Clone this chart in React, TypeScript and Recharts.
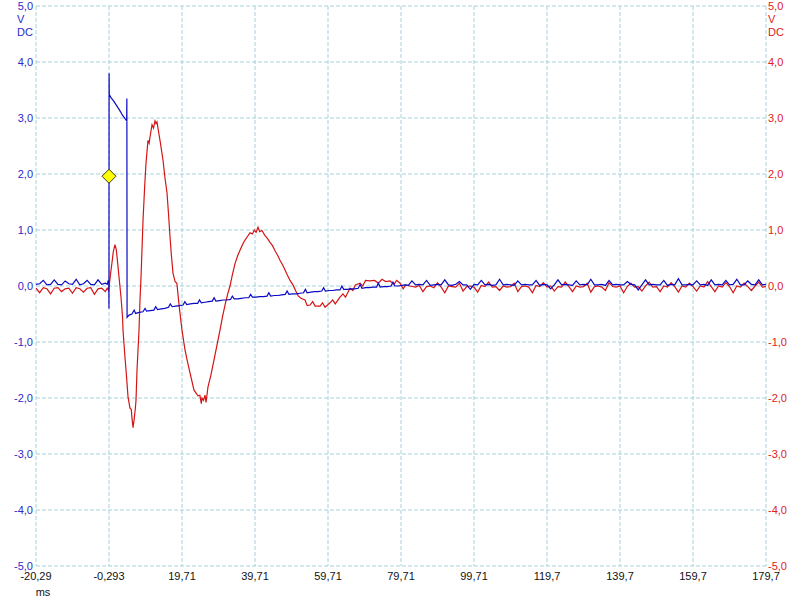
import React from 'react';
import { LineChart, Line, XAxis, YAxis, CartesianGrid, ReferenceDot } from 'recharts';

// ---- axes ----
const xTicks = [-20.293, -0.293, 19.707, 39.707, 59.707, 79.707, 99.707, 119.707, 139.707, 159.707, 179.707];
const xTickLabels = ['-20,29', '-0,293', '19,71', '39,71', '59,71', '79,71', '99,71', '119,7', '139,7', '159,7', '179,7'];
const yTicks = [-5, -4, -3, -2, -1, 0, 1, 2, 3, 4, 5];
const xUnit = 'ms';
const yUnit = ['V', 'DC'];

// ---- trigger marker ----
const triggerTime = -0.29;
const triggerLevel = 1.96;

// ---- sampling for flat (noisy) segments ----
const sampleMs = 1;
const preStart = -20.293;
const bluePostStart = 80.707;
const redPostStart = 83.707;

// ---- blue channel (V DC) ----
const bluePre = [0.03, 0.04, 0.1, 0.02, 0.03, 0.11, 0.03, 0.02, 0.09, 0.04, 0.03, 0.12, 0.02, 0.04, 0.1, 0.03, 0.02, 0.11, 0.03, 0.05];
const blueEvent: [number, number][] = [
  [-0.8, 0.03], [-0.5, 0.1], [-0.35, 0.04], [-0.3, -0.4], [-0.27, 3.8], [-0.22, 3.42], [0.3, 3.36], [1.0, 3.3],
  [1.8, 3.22], [2.6, 3.14], [3.4, 3.05], [4.1, 2.99], [4.55, 2.95], [4.6, 3.35], [4.66, -0.56], [5.2, -0.52],
  [6, -0.5], [6.6, -0.43], [7, -0.49], [8, -0.47], [9, -0.46], [9.6, -0.4], [10, -0.45], [11, -0.44], [12, -0.43],
  [12.5, -0.37], [13, -0.42], [14, -0.41], [15, -0.4], [16, -0.38], [16.5, -0.32], [17, -0.37], [18, -0.36],
  [19, -0.35], [20, -0.34], [20.5, -0.28], [21, -0.33], [22, -0.32], [23, -0.31], [24, -0.31], [24.5, -0.25],
  [25, -0.3], [26, -0.29], [27, -0.28], [28, -0.27], [28.5, -0.21], [29, -0.27], [30, -0.26], [31, -0.25],
  [32, -0.25], [33, -0.24], [33.5, -0.18], [34, -0.23], [35, -0.23], [36, -0.22], [37, -0.21], [38, -0.21],
  [38.5, -0.15], [39, -0.2], [40, -0.2], [41, -0.19], [42, -0.19], [43, -0.18], [43.5, -0.12], [44, -0.18],
  [45, -0.17], [46, -0.17], [47, -0.16], [48, -0.15], [48.5, -0.09], [49, -0.15], [50, -0.14], [51, -0.14],
  [52, -0.13], [53, -0.12], [53.5, -0.06], [54, -0.12], [55, -0.11], [56, -0.1], [57, -0.1], [58, -0.09],
  [58.5, -0.03], [59, -0.09], [60, -0.08], [61, -0.08], [62, -0.07], [63, -0.07], [63.5, 0.0], [64, -0.06],
  [65, -0.06], [66, -0.05], [67, -0.05], [68, -0.04], [68.5, 0.03], [69, -0.04], [70, -0.03], [71, -0.03],
  [72, -0.02], [73, -0.02], [73.5, 0.05], [74, -0.02], [75, -0.01], [76, -0.01], [77, 0.0], [77.5, 0.07],
  [78, 0.0], [79, 0.0], [80, 0.01],
];
const bluePost = [
  0.02, 0.01, 0.09, 0.02, 0.03, 0.02, 0.1, 0.01, 0.02, 0.03,
  0.02, 0.11, 0.02, 0.01, 0.03, 0.08, 0.02, 0.02, -0.06, 0.03,
  0.02, 0.1, 0.02, 0.03, 0.01, 0.02, 0.12, 0.02, 0.03, 0.02,
  0.01, 0.09, 0.02, 0.03, 0.02, 0.02, 0.1, 0.01, 0.03, 0.02,
  -0.05, 0.02, 0.11, 0.02, 0.03, 0.02, 0.01, 0.09, 0.02, 0.03,
  0.02, 0.12, 0.02, 0.02, 0.03, 0.01, 0.1, 0.02, 0.03, 0.02,
  0.02, 0.08, 0.03, 0.02, -0.07, 0.02, 0.11, 0.02, 0.03, 0.02,
  0.02, 0.1, 0.01, 0.03, 0.02, 0.13, 0.02, 0.02, 0.03, 0.02,
  0.09, 0.02, 0.03, 0.01, 0.11, 0.02, 0.03, 0.02, 0.1, 0.02,
  0.03, 0.12, 0.02, 0.02, 0.09, 0.03, 0.02, 0.11, 0.02, 0.03,
];

// ---- red channel (V DC) ----
const redPre = [-0.04, -0.12, -0.03, -0.05, -0.14, -0.04, -0.03, -0.1, -0.05, -0.04, -0.13, -0.03, -0.05, -0.11, -0.04, -0.03, -0.15, -0.05, -0.04, -0.1];
const redEvent: [number, number][] = [
  [-0.8, -0.04], [-0.4, -0.08], [-0.29, -0.02], [0.1, 0.2], [0.53, 0.42], [0.9, 0.62], [1.35, 0.74], [1.7, 0.65],
  [2.1, 0.4], [2.45, 0.16], [3.0, -0.2], [3.41, -0.55], [3.55, -0.79], [4.0, -1.2], [4.37, -1.5], [4.92, -1.98],
  [5.46, -2.18], [5.8, -2.2], [6.01, -2.36], [6.29, -2.53], [6.56, -2.4], [6.9, -2.2], [7.11, -2.04], [7.38, -1.5],
  [7.93, -0.79], [8.2, -0.25], [8.48, 0.16], [9.03, 1.18], [9.5, 1.8], [9.85, 2.2], [10.39, 2.6], [10.7, 2.55],
  [10.94, 2.66], [11.49, 2.88], [11.9, 2.82], [12.31, 2.95], [12.6, 2.9], [12.86, 2.93], [13.3, 2.75], [13.68, 2.6],
  [14.5, 2.25], [15.0, 1.95], [15.6, 1.66], [16.0, 1.3], [16.42, 0.88], [16.8, 0.55], [17.24, 0.23], [17.8, 0.08],
  [18.3, 0.05], [19.0, -0.4], [19.71, -0.79], [20.53, -1.14], [21.2, -1.35], [21.9, -1.55], [23.0, -1.86],
  [24.09, -1.96], [24.6, -1.95], [25.0, -2.1], [25.19, -2.0], [25.6, -2.04], [26.0, -1.95], [26.29, -2.08],
  [26.83, -1.8], [27.6, -1.6], [28.48, -1.32], [29.3, -1.05], [30.12, -0.79], [30.8, -0.55], [31.49, -0.34],
  [32.2, -0.15], [32.86, 0.0], [33.5, 0.2], [34.23, 0.4], [35.0, 0.55], [35.6, 0.64], [36.3, 0.74], [36.97, 0.82],
  [37.6, 0.88], [38.34, 0.95], [39.0, 0.93], [39.5, 1.0], [40.0, 0.96], [40.53, 1.05], [41.0, 0.97], [41.6, 0.99],
  [42.45, 0.9], [43.1, 0.85], [43.82, 0.78], [44.5, 0.72], [45.2, 0.63], [45.9, 0.55], [46.56, 0.46], [47.5, 0.35],
  [48.4, 0.22], [49.3, 0.1], [50.1, 0.02], [50.94, -0.1], [51.6, -0.18], [52.3, -0.22], [53.41, -0.25],
  [54.0, -0.35], [54.78, -0.34], [55.5, -0.28], [56.2, -0.36], [57.52, -0.36], [58.2, -0.3], [58.9, -0.38],
  [60.26, -0.3], [61.0, -0.25], [61.7, -0.32], [63.0, -0.2], [63.8, -0.14], [64.5, -0.2], [65.74, -0.04],
  [66.5, -0.08], [67.2, 0.02], [68.48, 0.05], [69.2, 0.0], [70.0, 0.1], [71.22, 0.09], [72.5, 0.1], [73.5, 0.05],
  [74.5, 0.12], [75.5, 0.08], [76.7, 0.09], [77.8, 0.03], [78.5, 0.1], [79.44, 0.05], [80.3, -0.05], [81.0, 0.02],
  [82.18, 0.0],
];
const redPost = [
  -0.02, 0.01, -0.1, -0.01, 0.0, -0.03, 0.06, -0.02, -0.12, 0.0,
  -0.01, -0.02, 0.05, -0.09, -0.01, 0.0, -0.02, -0.11, 0.01, -0.01,
  0.07, -0.02, -0.01, -0.08, 0.0, -0.02, -0.01, 0.05, -0.1, -0.01,
  0.0, -0.02, -0.12, 0.01, -0.01, 0.06, -0.02, 0.0, -0.09, -0.01,
  -0.02, 0.07, -0.01, -0.1, 0.0, -0.02, -0.01, 0.05, -0.11, -0.01,
  0.0, -0.02, -0.08, 0.06, -0.01, -0.02, 0.0, -0.12, -0.01, 0.05,
  -0.02, -0.01, -0.09, 0.0, 0.07, -0.02, -0.01, -0.1, 0.0, -0.02,
  0.06, -0.01, -0.11, 0.0, -0.02, 0.05, -0.01, -0.09, 0.0, -0.02,
  0.08, -0.01, -0.1, 0.0, -0.02, 0.06, -0.01, -0.12, 0.0, -0.02,
  0.05, -0.01, -0.08, 0.0, 0.07, -0.02, -0.01,
];

const build = (pre: number[], event: [number, number][], post: number[], postStart: number) => [
  ...pre.map((v, i) => ({ t: preStart + i * sampleMs, v })),
  ...event.map(([t, v]) => ({ t, v })),
  ...post.map((v, i) => ({ t: postStart + i * sampleMs, v })),
];

const blueData = build(bluePre, blueEvent, bluePost, bluePostStart);
const redData = build(redPre, redEvent, redPost, redPostStart);

const BLUE = '#0a0ac4';
const RED = '#d41515';
const BLUE_TXT = '#2a2ac8';
const RED_TXT = '#dc2222';
const FONT = '"Liberation Sans", Arial, sans-serif';
const GRID = '#a6d2da';

const fmtY = (v: number) => v.toFixed(1).replace('.', ',');

const LeftTick = (props: any) => {
  const { x, y, payload } = props;
  return (
    <g>
      <text x={x} y={y} dy={4} textAnchor="end" fill={BLUE_TXT} fontSize={11} fontFamily={FONT}>{fmtY(payload.value)}</text>
      {payload.value === 5 && yUnit.map((u, i) => (
        <text key={u} x={x - 16} y={y + 13 * (i + 1)} dy={4} textAnchor="start" fill={BLUE_TXT} fontSize={11} fontFamily={FONT}>{u}</text>
      ))}
    </g>
  );
};

const RightTick = (props: any) => {
  const { x, y, payload } = props;
  return (
    <g>
      <text x={x} y={y} dy={4} textAnchor="start" fill={RED_TXT} fontSize={11} fontFamily={FONT}>{fmtY(payload.value)}</text>
      {payload.value === 5 && yUnit.map((u, i) => (
        <text key={u} x={x} y={y + 13 * (i + 1)} dy={4} textAnchor="start" fill={RED_TXT} fontSize={11} fontFamily={FONT}>{u}</text>
      ))}
    </g>
  );
};

const BottomTick = (props: any) => {
  const { x, y, payload, index } = props;
  const idx = xTicks.indexOf(payload.value);
  const label = idx >= 0 ? xTickLabels[idx] : String(payload.value);
  return (
    <g>
      <text x={x} y={y} dy={8} textAnchor="middle" fill="#111" fontSize={11} fontFamily={FONT}>{label}</text>
      {index === 0 && (
        <text x={x + 7} y={y + 24} textAnchor="middle" fill="#111" fontSize={11} fontFamily={FONT}>{xUnit}</text>
      )}
    </g>
  );
};

const Diamond = (props: any) => {
  const { cx, cy } = props;
  const r = 7;
  return (
    <polygon
      points={`${cx},${cy - r} ${cx + r},${cy} ${cx},${cy + r} ${cx - r},${cy}`}
      fill="#ffff00"
      stroke="#3a3a20"
      strokeWidth={1}
    />
  );
};

export default function App() {
  return (
    <div style={{ position: 'absolute', left: 0, top: 0, width: 800, height: 600, background: '#fff' }}>
      <LineChart width={800} height={600} margin={{ top: 6, right: 0, bottom: 0, left: 0 }}>
        <CartesianGrid stroke={GRID} strokeDasharray="4 2" xAxisId={0} yAxisId={0} />
        <XAxis
          xAxisId={0}
          dataKey="t"
          type="number"
          domain={[-20.293, 179.707]}
          ticks={xTicks}
          interval={0}
          allowDataOverflow
          axisLine={false}
          tickLine={false}
          tickSize={0}
          tickMargin={6}
          height={34}
          tick={<BottomTick />}
        />
        <YAxis
          yAxisId={0}
          orientation="left"
          type="number"
          domain={[-5, 5]}
          ticks={yTicks}
          interval={0}
          allowDataOverflow
          axisLine={false}
          tickLine={false}
          tickSize={0}
          tickMargin={3}
          width={36}
          tick={<LeftTick />}
        />
        <YAxis
          yAxisId="right"
          orientation="right"
          type="number"
          domain={[-5, 5]}
          ticks={yTicks}
          interval={0}
          allowDataOverflow
          axisLine={false}
          tickLine={false}
          tickSize={0}
          tickMargin={2}
          width={34}
          tick={<RightTick />}
        />
        <Line
          data={redData}
          dataKey="v"
          xAxisId={0}
          yAxisId="right"
          type="linear"
          stroke={RED}
          strokeWidth={1.2}
          dot={false}
          isAnimationActive={false}
        />
        <Line
          data={blueData}
          dataKey="v"
          xAxisId={0}
          yAxisId={0}
          type="linear"
          stroke={BLUE}
          strokeWidth={1.2}
          dot={false}
          isAnimationActive={false}
        />
        <ReferenceDot x={triggerTime} y={triggerLevel} xAxisId={0} yAxisId={0} shape={<Diamond />} />
      </LineChart>
    </div>
  );
}
